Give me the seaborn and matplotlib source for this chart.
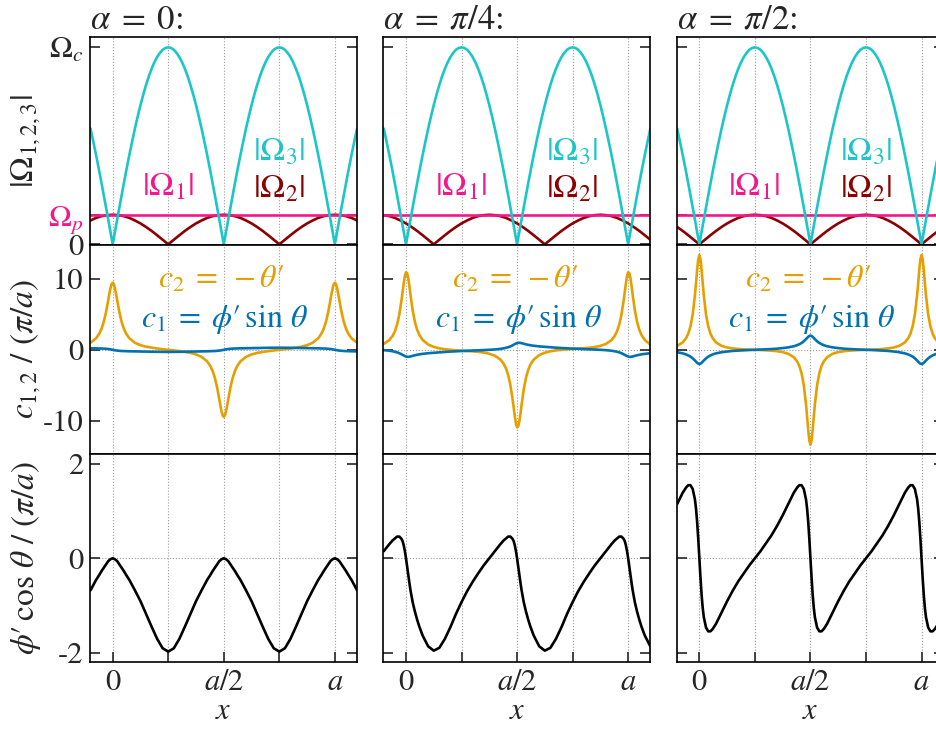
import numpy as np
import matplotlib
matplotlib.use('Agg')
import matplotlib.pyplot as plt
import seaborn as sns

# ==========================================
# DATA (x in units of a)
# ==========================================
ALPHA_TITLES = [r'$\alpha\;=\;0$:', r'$\alpha\;=\;\pi/4$:', r'$\alpha\;=\;\pi/2$:']

OMEGA_C = 1.0
OMEGA_P = 0.15

# top row: |Omega_3| (same for every alpha), sampled every a/80
X_OMEGA3 = np.linspace(-0.1, 1.1, 97)
OMEGA3 = [0.588, 0.522, 0.454, 0.383, 0.309, 0.233, 0.156, 0.078,
          0.0, 0.078, 0.156, 0.233, 0.309, 0.383, 0.454, 0.522, 0.588, 0.649, 0.707,
          0.760, 0.809, 0.853, 0.891, 0.924, 0.951, 0.972, 0.988, 0.997, 1.0,
          0.997, 0.988, 0.972, 0.951, 0.924, 0.891, 0.853, 0.809, 0.760, 0.707,
          0.649, 0.588, 0.522, 0.454, 0.383, 0.309, 0.233, 0.156, 0.078, 0.0,
          0.078, 0.156, 0.233, 0.309, 0.383, 0.454, 0.522, 0.588, 0.649, 0.707,
          0.760, 0.809, 0.853, 0.891, 0.924, 0.951, 0.972, 0.988, 0.997, 1.0,
          0.997, 0.988, 0.972, 0.951, 0.924, 0.891, 0.853, 0.809, 0.760, 0.707,
          0.649, 0.588, 0.522, 0.454, 0.383, 0.309, 0.233, 0.156, 0.078, 0.0,
          0.078, 0.156, 0.233, 0.309, 0.383, 0.454, 0.522, 0.588]

# |Omega_2| per alpha, sampled every a/40
X_OMEGA2 = np.linspace(-0.1, 1.1, 49)
OMEGA2_A0 = [0.121, 0.134, 0.143, 0.148, 0.150, 0.148, 0.143, 0.134, 0.121, 0.106, 0.088, 0.068,
             0.046, 0.023, 0.0, 0.023, 0.046, 0.068, 0.088, 0.106, 0.121, 0.134, 0.143, 0.148,
             0.150, 0.148, 0.143, 0.134, 0.121, 0.106, 0.088, 0.068, 0.046, 0.023, 0.0, 0.023,
             0.046, 0.068, 0.088, 0.106, 0.121, 0.134, 0.143, 0.148, 0.150, 0.148, 0.143, 0.134,
             0.121]
OMEGA2_A1 = [0.148, 0.143, 0.134, 0.121, 0.106, 0.088, 0.068, 0.046, 0.023, 0.0, 0.023, 0.046,
             0.068, 0.088, 0.106, 0.121, 0.134, 0.143, 0.148, 0.150, 0.148, 0.143, 0.134, 0.121,
             0.106, 0.088, 0.068, 0.046, 0.023, 0.0, 0.023, 0.046, 0.068, 0.088, 0.106, 0.121,
             0.134, 0.143, 0.148, 0.150, 0.148, 0.143, 0.134, 0.121, 0.106, 0.088, 0.068, 0.046,
             0.023]
OMEGA2_A2 = [0.088, 0.068, 0.046, 0.023, 0.0, 0.023, 0.046, 0.068, 0.088, 0.106, 0.121, 0.134,
             0.143, 0.148, 0.150, 0.148, 0.143, 0.134, 0.121, 0.106, 0.088, 0.068, 0.046, 0.023,
             0.0, 0.023, 0.046, 0.068, 0.088, 0.106, 0.121, 0.134, 0.143, 0.148, 0.150, 0.148,
             0.143, 0.134, 0.121, 0.106, 0.088, 0.068, 0.046, 0.023, 0.0, 0.023, 0.046, 0.068,
             0.088]

# middle + bottom rows, denser sampling around the peaks
X_FINE = [-0.1, -0.075, -0.06, -0.05, -0.04, -0.03, -0.02, -0.015, -0.01, -0.005, 0.0, 0.005,
          0.01, 0.015, 0.02, 0.03, 0.04, 0.05, 0.06, 0.075, 0.1, 0.125, 0.15, 0.175, 0.2, 0.225,
          0.25, 0.275, 0.3, 0.325, 0.35, 0.375,
          0.4, 0.425, 0.44, 0.45, 0.46, 0.47, 0.48, 0.485, 0.49, 0.495, 0.5, 0.505,
          0.51, 0.515, 0.52, 0.53, 0.54, 0.55, 0.56, 0.575, 0.6, 0.625, 0.65, 0.675, 0.7, 0.725,
          0.75, 0.775, 0.8, 0.825, 0.85, 0.875,
          0.9, 0.925, 0.94, 0.95, 0.96, 0.97, 0.98, 0.985, 0.99, 0.995, 1.0, 1.005,
          1.01, 1.015, 1.02, 1.03, 1.04, 1.05, 1.06, 1.075, 1.1]

# c2 = -theta'
C2_A0 = [0.99, 1.62, 2.30, 2.99, 3.96, 5.30, 7.00, 7.89, 8.68, 9.23, 9.43, 9.23, 8.68, 7.89, 7.00, 5.30,
         3.96, 2.99, 2.30, 1.62, 0.99, 0.65, 0.44, 0.30, 0.19, 0.09, 0.00, -0.09, -0.19, -0.30, -0.44, -0.65,
         -0.99, -1.62, -2.30, -2.99, -3.96, -5.30, -7.00, -7.89, -8.68, -9.23, -9.43, -9.23, -8.68, -7.89,
         -7.00, -5.30, -3.96, -2.99, -2.30, -1.62, -0.99, -0.65, -0.44, -0.30, -0.19, -0.09, 0.00, 0.09,
         0.19, 0.30, 0.44, 0.65,
         0.99, 1.62, 2.30, 2.99, 3.96, 5.30, 7.00, 7.89, 8.68, 9.23, 9.43, 9.23, 8.68, 7.89, 7.00, 5.30,
         3.96, 2.99, 2.30, 1.62, 0.99]
C2_A1 = [0.83, 1.37, 1.97, 2.61, 3.55, 4.96, 6.99, 8.19, 9.38, 10.36, 10.89, 10.79, 10.11, 9.03, 7.81,
         5.58, 3.94, 2.83, 2.09, 1.38, 0.74, 0.41, 0.21, 0.08, 0.00, -0.07, -0.12, -0.17, -0.22, -0.29,
         -0.39, -0.55,
         -0.83, -1.37, -1.97, -2.61, -3.55, -4.96, -6.99, -8.19, -9.38, -10.36, -10.89, -10.79, -10.11,
         -9.03, -7.81, -5.58, -3.94, -2.83, -2.09, -1.38, -0.74, -0.41, -0.21, -0.08, 0.00, 0.07, 0.12,
         0.17, 0.22, 0.29, 0.39, 0.55,
         0.83, 1.37, 1.97, 2.61, 3.55, 4.96, 6.99, 8.19, 9.38, 10.36, 10.89, 10.79, 10.11, 9.03, 7.81,
         5.58, 3.94, 2.83, 2.09, 1.38, 0.74]
C2_A2 = [0.56, 1.04, 1.63, 2.27, 3.29, 4.96, 7.66, 9.42, 11.26, 12.75, 13.33, 12.75, 11.26, 9.42, 7.66,
         4.96, 3.29, 2.27, 1.63, 1.04, 0.56, 0.32, 0.20, 0.12, 0.07, 0.03, 0.00, -0.03, -0.07, -0.12,
         -0.20, -0.32,
         -0.56, -1.04, -1.63, -2.27, -3.29, -4.96, -7.66, -9.42, -11.26, -12.75, -13.33, -12.75, -11.26,
         -9.42, -7.66, -4.96, -3.29, -2.27, -1.63, -1.04, -0.56, -0.32, -0.20, -0.12, -0.07, -0.03, 0.00,
         0.03, 0.07, 0.12, 0.20, 0.32,
         0.56, 1.04, 1.63, 2.27, 3.29, 4.96, 7.66, 9.42, 11.26, 12.75, 13.33, 12.75, 11.26, 9.42, 7.66,
         4.96, 3.29, 2.27, 1.63, 1.04, 0.56]

# c1 = phi' sin(theta)
C1_A0 = [0.22, 0.21, 0.19, 0.18, 0.17, 0.14, 0.11, 0.09, 0.06, 0.03, 0.00, -0.03, -0.06, -0.09, -0.11,
         -0.14, -0.17, -0.18, -0.19, -0.21, -0.22, -0.24, -0.25, -0.27, -0.28, -0.29, -0.30, -0.29, -0.28,
         -0.27, -0.25, -0.24,
         -0.22, -0.21, -0.19, -0.18, -0.17, -0.14, -0.11, -0.09, -0.06, -0.03, 0.00, 0.03, 0.06, 0.09,
         0.11, 0.14, 0.17, 0.18, 0.19, 0.21, 0.22, 0.24, 0.25, 0.27, 0.28, 0.29, 0.30, 0.29, 0.28, 0.27,
         0.25, 0.24,
         0.22, 0.21, 0.19, 0.18, 0.17, 0.14, 0.11, 0.09, 0.06, 0.03, 0.00, -0.03, -0.06, -0.09, -0.11,
         -0.14, -0.17, -0.18, -0.19, -0.21, -0.22]
C1_A1 = [-0.05, -0.13, -0.21, -0.28, -0.36, -0.48, -0.63, -0.72, -0.80, -0.88, -0.94, -0.98, -0.99,
         -0.97, -0.94, -0.85, -0.77, -0.70, -0.64, -0.57, -0.48, -0.42, -0.36, -0.30, -0.25, -0.21, -0.17,
         -0.14, -0.10, -0.07, -0.04, 0.00,
         0.05, 0.13, 0.21, 0.28, 0.36, 0.48, 0.63, 0.72, 0.80, 0.88, 0.94, 0.98, 0.99, 0.97, 0.94, 0.85,
         0.77, 0.70, 0.64, 0.57, 0.48, 0.42, 0.36, 0.30, 0.25, 0.21, 0.17, 0.14, 0.10, 0.07, 0.04, 0.00,
         -0.05, -0.13, -0.21, -0.28, -0.36, -0.48, -0.63, -0.72, -0.80, -0.88, -0.94, -0.98, -0.99,
         -0.97, -0.94, -0.85, -0.77, -0.70, -0.64, -0.57, -0.48]
C1_A2 = [-0.34, -0.50, -0.65, -0.79, -0.96, -1.20, -1.50, -1.67, -1.83, -1.95, -2.00, -1.95, -1.83,
         -1.67, -1.50, -1.20, -0.96, -0.79, -0.65, -0.50, -0.34, -0.24, -0.16, -0.11, -0.07, -0.03, 0.00,
         0.03, 0.07, 0.11, 0.16, 0.24,
         0.34, 0.50, 0.65, 0.79, 0.96, 1.20, 1.50, 1.67, 1.83, 1.95, 2.00, 1.95, 1.83, 1.67, 1.50, 1.20,
         0.96, 0.79, 0.65, 0.50, 0.34, 0.24, 0.16, 0.11, 0.07, 0.03, 0.00, -0.03, -0.07, -0.11, -0.16,
         -0.24,
         -0.34, -0.50, -0.65, -0.79, -0.96, -1.20, -1.50, -1.67, -1.83, -1.95, -2.00, -1.95, -1.83,
         -1.67, -1.50, -1.20, -0.96, -0.79, -0.65, -0.50, -0.34]

# phi' cos(theta)
C3_A0 = [-0.68, -0.46, -0.35, -0.27, -0.20, -0.13, -0.06, -0.04, -0.02, -0.01, 0.00, -0.01, -0.02,
         -0.04, -0.06, -0.13, -0.20, -0.27, -0.35, -0.46, -0.68, -0.91, -1.18, -1.45, -1.71, -1.91,
         -1.98, -1.91, -1.71, -1.45, -1.18, -0.91,
         -0.68, -0.46, -0.35, -0.27, -0.20, -0.13, -0.06, -0.04, -0.02, -0.01, 0.00, -0.01, -0.02,
         -0.04, -0.06, -0.13, -0.20, -0.27, -0.35, -0.46, -0.68, -0.91, -1.18, -1.45, -1.71, -1.91,
         -1.98, -1.91, -1.71, -1.45, -1.18, -0.91,
         -0.68, -0.46, -0.35, -0.27, -0.20, -0.13, -0.06, -0.04, -0.02, -0.01, 0.00, -0.01, -0.02,
         -0.04, -0.06, -0.13, -0.20, -0.27, -0.35, -0.46, -0.68]
C3_A1 = [0.15, 0.30, 0.38, 0.42, 0.46, 0.46, 0.41, 0.36, 0.27, 0.15, 0.00, -0.17, -0.34, -0.51, -0.67,
         -0.93, -1.13, -1.30, -1.45, -1.64, -1.87, -1.96, -1.90, -1.71, -1.46, -1.18, -0.93, -0.70,
         -0.50, -0.32, -0.15, 0.00,
         0.15, 0.30, 0.38, 0.42, 0.46, 0.46, 0.41, 0.36, 0.27, 0.15, 0.00, -0.17, -0.34, -0.51, -0.67,
         -0.93, -1.13, -1.30, -1.45, -1.64, -1.87, -1.96, -1.90, -1.71, -1.46, -1.18, -0.93, -0.70,
         -0.50, -0.32, -0.15, 0.00,
         0.15, 0.30, 0.38, 0.42, 0.46, 0.46, 0.41, 0.36, 0.27, 0.15, 0.00, -0.17, -0.34, -0.51, -0.67,
         -0.93, -1.13, -1.30, -1.45, -1.64, -1.87]
C3_A2 = [1.15, 1.39, 1.50, 1.55, 1.55, 1.47, 1.25, 1.05, 0.77, 0.41, 0.00, -0.41, -0.77, -1.05, -1.25,
         -1.47, -1.55, -1.55, -1.50, -1.39, -1.15, -0.91, -0.69, -0.49, -0.32, -0.15, 0.00, 0.15, 0.32,
         0.49, 0.69, 0.91,
         1.15, 1.39, 1.50, 1.55, 1.55, 1.47, 1.25, 1.05, 0.77, 0.41, 0.00, -0.41, -0.77, -1.05, -1.25,
         -1.47, -1.55, -1.55, -1.50, -1.39, -1.15, -0.91, -0.69, -0.49, -0.32, -0.15, 0.00, 0.15, 0.32,
         0.49, 0.69, 0.91,
         1.15, 1.39, 1.50, 1.55, 1.55, 1.47, 1.25, 1.05, 0.77, 0.41, 0.00, -0.41, -0.77, -1.05, -1.25,
         -1.47, -1.55, -1.55, -1.50, -1.39, -1.15]

OMEGA2 = [OMEGA2_A0, OMEGA2_A1, OMEGA2_A2]
C1 = [C1_A0, C1_A1, C1_A2]
C2 = [C2_A0, C2_A1, C2_A2]
C3 = [C3_A0, C3_A1, C3_A2]

# ==========================================
# STYLE
# ==========================================
CYAN = '#1cc6c8'
PINK = '#f5168c'
DARKRED = '#8b0000'
ORANGE = '#e69f00'
BLUE = '#0072b2'
GRIDC = '#9a9a9a'
PRIME = '\u2032'

sns.set_style('ticks')
plt.rcParams['font.family'] = ['STIXGeneral', 'DejaVu Serif']
plt.rcParams['mathtext.fontset'] = 'stix'
plt.rcParams['axes.unicode_minus'] = False

fig = plt.figure(figsize=(9.37, 7.3), dpi=100)

col_left = [0.0961, 0.4091, 0.7222]
row_bottom = [0.664, 0.3786, 0.0932]
w, h = 0.285, 0.2854
LW = 1.9
TICK_FS = 22

for j in range(3):
    axs = [fig.add_axes([col_left[j], b, w, h]) for b in row_bottom]

    # ---- top row: Rabi frequencies
    ax = axs[0]
    sns.lineplot(x=X_OMEGA2, y=OMEGA2[j], ax=ax, color=DARKRED, lw=LW, estimator=None, sort=False)
    ax.axhline(OMEGA_P, color=PINK, lw=LW)
    sns.lineplot(x=X_OMEGA3, y=OMEGA3, ax=ax, color=CYAN, lw=LW, estimator=None, sort=False)
    ax.set_ylim(-0.005, 1.053)
    ax.set_yticks([0, OMEGA_P, OMEGA_C])
    ax.text(0.247, 0.29, r'$|\Omega_1|$', color=PINK, fontsize=24, ha='center', va='center')
    ax.text(0.748, 0.465, r'$|\Omega_3|$', color=CYAN, fontsize=24, ha='center', va='center')
    ax.text(0.748, 0.28, r'$|\Omega_2|$', color=DARKRED, fontsize=24, ha='center', va='center')
    ax.set_title(ALPHA_TITLES[j], loc='left', fontsize=25, pad=4)

    # ---- middle row: c1, c2
    ax = axs[1]
    ax.axhline(0, color=GRIDC, lw=0.8, ls=':', zorder=0)
    sns.lineplot(x=X_FINE, y=C2[j], ax=ax, color=ORANGE, lw=LW, estimator=None, sort=False)
    sns.lineplot(x=X_FINE, y=C1[j], ax=ax, color=BLUE, lw=LW, estimator=None, sort=False)
    ax.set_ylim(-14.6, 14.7)
    ax.set_yticks([-10, 0, 10])
    ax.text(0.49, 9.9, r'$c_2\;=\;-\theta' + PRIME + '$', color=ORANGE, fontsize=23,
            ha='center', va='center')
    ax.text(0.505, 4.2, r'$c_1\;=\;\phi' + PRIME + r'\,\sin\,\theta$', color=BLUE, fontsize=23,
            ha='center', va='center')

    # ---- bottom row: phi' cos(theta)
    ax = axs[2]
    ax.axhline(0, color=GRIDC, lw=0.8, ls=':', zorder=0)
    sns.lineplot(x=X_FINE, y=C3[j], ax=ax, color='black', lw=LW, estimator=None, sort=False)
    ax.set_ylim(-2.2, 2.22)
    ax.set_yticks([-2, 0, 2])

    for i, ax in enumerate(axs):
        ax.set_xlim(-0.102, 1.1)
        for gx in [0, 0.25, 0.5, 0.75, 1.0]:
            ax.axvline(gx, color=GRIDC, lw=0.8, ls=':', zorder=0)
        for s in ax.spines.values():
            s.set_linewidth(1.2)
            s.set_color('black')
        ax.tick_params(axis='y', which='both', direction='in', length=7, width=1.2,
                       left=True, right=True, labelleft=(j == 0), labelsize=TICK_FS, pad=5)
        ax.set_xticks([0, 0.5, 1.0])
        ax.set_xticks([0.25, 0.75], minor=True)
        if i < 2:
            ax.tick_params(axis='x', which='both', bottom=False, top=False, labelbottom=False)
        else:
            ax.tick_params(axis='x', which='both', direction='in', length=7, width=1.2,
                           bottom=True, top=False, labelsize=TICK_FS, pad=5)
            ax.set_xticklabels(['0', r'$a/2$', r'$a$'])
            ax.set_xlabel(r'$x$', fontsize=TICK_FS, labelpad=1)
        ax.set_ylabel('')

    if j == 0:
        axs[0].set_yticklabels(['0', r'$\Omega_p$', r'$\Omega_c$'])
        axs[0].get_yticklabels()[1].set_color(PINK)
        axs[1].set_yticklabels(['-10', '0', '10'])
        axs[2].set_yticklabels(['-2', '0', '2'])
        axs[0].set_ylabel(r'$|\Omega_{1,2,3}|$', fontsize=24)
        axs[1].set_ylabel(r'$c_{1,2}\ /\ (\pi/a)$', fontsize=24)
        axs[2].set_ylabel(r'$\phi' + PRIME + r'\,\cos\,\theta\ /\ (\pi/a)$', fontsize=24)
        for ax in axs:
            ax.yaxis.set_label_coords(-0.175, 0.5)

fig.savefig('out.png', dpi=100)
